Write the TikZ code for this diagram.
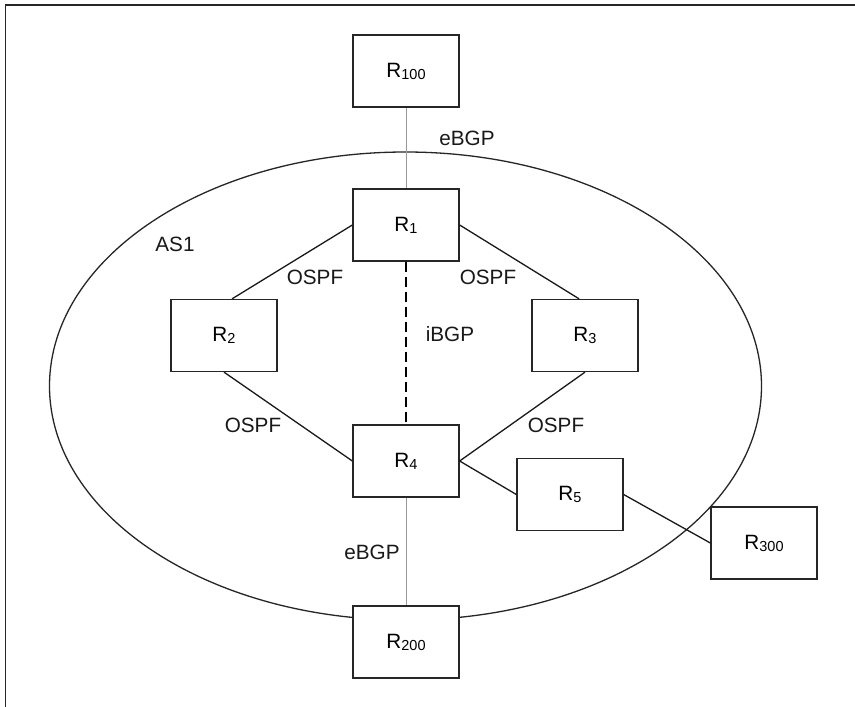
\documentclass[tikz,border=0pt]{standalone}
\usepackage{fontspec}
\setmainfont{Liberation Sans}
\usetikzlibrary{calc}
\newcommand{\rsub}[1]{R\raisebox{-2pt}{\fontsize{14.5}{15}\selectfont #1}}
\tikzset{
  router/.style={draw=black!85, line width=1.3pt, fill=white, minimum width=106pt, minimum height=72pt, inner sep=0pt},
  lbl/.style={inner sep=0pt, text=black!90},
  link/.style={line width=1.3pt, black!90},
  ebgp/.style={line width=1pt, black!40},
  ibgp/.style={line width=2.6pt, black, dash pattern=on 10pt off 5pt},
}
\begin{document}
\begin{tikzpicture}[x=1pt,y=-1pt,font=\fontsize{20.7}{24}\selectfont]
\useasboundingbox (0,0) rectangle (855,707);
\fill[white] (0,0) rectangle (855,707);
% frame (only top and left edges visible)
\draw[line width=1.6pt, black!85] (5.5,707) -- (5.5,5) -- (855,5);
% AS ellipse
\draw[line width=1.3pt, black!85] (405.5,386) ellipse [x radius=356pt, y radius=234pt];
% routers
\node[router] (R100) at (406,71) {\rsub{100}};
\node[router] (R1) at (406,225) {\rsub{1}};
\node[router] (R2) at (224,335.5) {\rsub{2}};
\node[router] (R3) at (585,335.5) {\rsub{3}};
\node[router] (R4) at (406,461) {\rsub{4}};
\node[router] (R5) at (570,494.5) {\rsub{5}};
\node[router] (R300) at (764,543) {\rsub{300}};
\node[router] (R200) at (406,642) {\rsub{200}};
% links
\draw[ebgp] (R100.south) -- (R1.north);
\draw[ebgp] (R4.south) -- (R200.north);
\draw[ibgp] (R1.south) -- (R4.north);
\draw[link] (R1.west) -- ($(R2.north west)!0.575!(R2.north east)$);
\draw[link] (R1.east) -- ($(R3.north west)!0.445!(R3.north east)$);
\draw[link] (R2.south) -- (R4.west);
\draw[link] (R3.south) -- (R4.east);
\draw[link] (R4.east) -- (R5.west);
\draw[link] (R5.east) -- (R300.west);
% labels
\node[lbl] (l1) at (467,138) {eBGP};
\node[lbl] (l2) at (175,244) {AS1};
\node[lbl] (l3) at (315,277) {OSPF};
\node[lbl] (l4) at (488,277) {OSPF};
\node[lbl] (l5) at (450,334) {iBGP};
\node[lbl] (l6) at (253,425) {OSPF};
\node[lbl] (l7) at (556,425) {OSPF};
\node[lbl] (l8) at (372,552) {eBGP};
\end{tikzpicture}
\end{document}
